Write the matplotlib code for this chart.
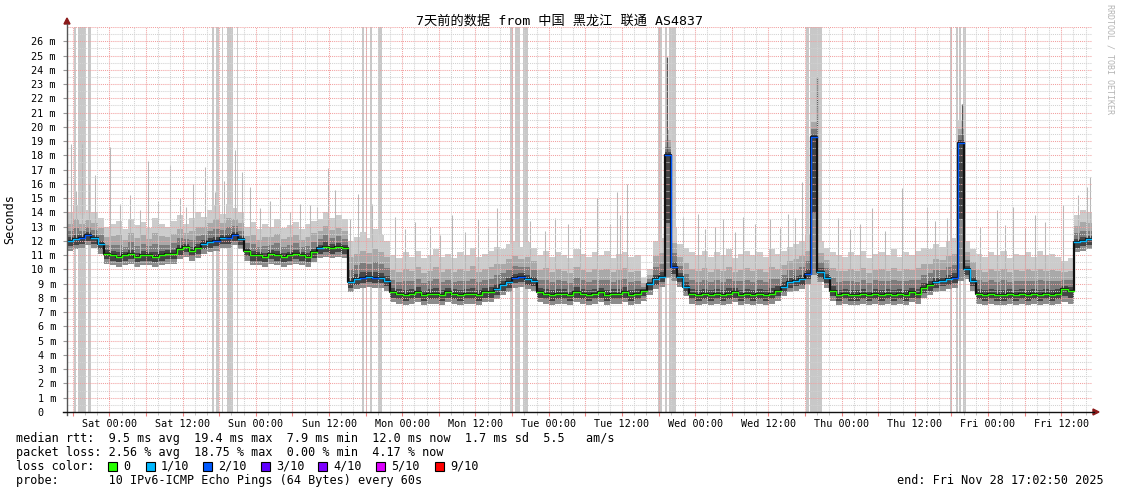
import numpy as np
import matplotlib
matplotlib.use("Agg")
import matplotlib.pyplot as plt
from matplotlib.patches import Rectangle, Polygon
from matplotlib.lines import Line2D

# ---------------- data (hourly samples, hour 0 = Fri 17:02:50) ----------------
median_ms = [
    12.0, 12.1, 12.2, 12.4, 12.2, 11.8, 11.1, 11.0, 10.9, 11.0, 11.1, 10.9, 11.0, 11.0, 10.9, 11.0, 11.1, 11.1, 11.4, 11.6, 11.3, 11.5, 11.8, 11.9,
    12.0, 12.2, 12.2, 12.4, 12.1, 11.3, 11.0, 11.0, 10.9, 11.1, 11.0, 10.9, 11.0, 11.1, 11.0, 10.9, 11.2, 11.5, 11.6, 11.5, 11.6, 11.5, 9.1, 9.3,
    9.4, 9.5, 9.4, 9.4, 9.2, 8.4, 8.3, 8.2, 8.3, 8.4, 8.2, 8.3, 8.3, 8.2, 8.4, 8.3, 8.2, 8.3, 8.3, 8.2, 8.4, 8.4, 8.6, 8.9,
    9.1, 9.4, 9.5, 9.3, 9.2, 8.4, 8.3, 8.2, 8.3, 8.3, 8.2, 8.4, 8.3, 8.2, 8.3, 8.4, 8.2, 8.3, 8.3, 8.4, 8.2, 8.3, 8.5, 9.0,
    9.3, 9.5, 18.0, 10.2, 9.5, 8.8, 8.3, 8.2, 8.3, 8.2, 8.3, 8.2, 8.3, 8.4, 8.2, 8.3, 8.2, 8.3, 8.2, 8.3, 8.5, 8.8, 9.1, 9.2,
    9.3, 9.7, 19.3, 9.8, 9.4, 8.5, 8.2, 8.3, 8.2, 8.2, 8.3, 8.2, 8.3, 8.2, 8.3, 8.2, 8.3, 8.2, 8.4, 8.3, 8.7, 8.9, 9.1, 9.2,
    9.3, 9.4, 18.9, 10.0, 9.2, 8.3, 8.2, 8.3, 8.2, 8.2, 8.3, 8.2, 8.3, 8.2, 8.3, 8.2, 8.3, 8.2, 8.3, 8.6, 8.5, 11.9, 12.0, 12.1,
]
low_ms = [
    11.3, 11.4, 11.5, 11.7, 11.5, 11.1, 10.4, 10.3, 10.2, 10.3, 10.4, 10.2, 10.3, 10.3, 10.2, 10.3, 10.4, 10.4, 10.7, 10.9, 10.6, 10.8, 11.1, 11.2,
    11.3, 11.5, 11.5, 11.7, 11.4, 10.6, 10.3, 10.3, 10.2, 10.4, 10.3, 10.2, 10.3, 10.4, 10.3, 10.2, 10.5, 10.8, 10.9, 10.8, 10.9, 10.8, 8.4, 8.6,
    8.7, 8.8, 8.7, 8.7, 8.5, 7.7, 7.6, 7.5, 7.6, 7.7, 7.5, 7.6, 7.6, 7.5, 7.7, 7.6, 7.5, 7.6, 7.6, 7.5, 7.7, 7.7, 7.9, 8.2,
    8.4, 8.7, 8.8, 8.6, 8.5, 7.7, 7.6, 7.5, 7.6, 7.6, 7.5, 7.7, 7.6, 7.5, 7.6, 7.7, 7.5, 7.6, 7.6, 7.7, 7.5, 7.6, 7.8, 8.2,
    8.6, 8.8, 9.4, 9.2, 8.8, 8.1, 7.6, 7.5, 7.6, 7.5, 7.6, 7.5, 7.6, 7.7, 7.5, 7.6, 7.5, 7.6, 7.5, 7.6, 7.8, 8.1, 8.4, 8.5,
    8.6, 9.0, 9.6, 9.1, 8.7, 7.8, 7.5, 7.6, 7.5, 7.5, 7.6, 7.5, 7.6, 7.5, 7.6, 7.5, 7.6, 7.5, 7.7, 7.6, 8.0, 8.2, 8.4, 8.5,
    8.6, 8.7, 9.2, 9.3, 8.5, 7.6, 7.5, 7.6, 7.5, 7.5, 7.6, 7.5, 7.6, 7.5, 7.6, 7.5, 7.6, 7.5, 7.6, 7.7, 7.6, 11.2, 11.3, 11.4,
]
top_ms = [
    14.0, 14.5, 13.8, 14.2, 14.0, 13.6, 13.0, 13.2, 13.4, 12.8, 13.5, 13.1, 13.3, 12.9, 13.6, 13.2, 13.0, 13.4, 13.8, 13.2, 13.6, 14.0, 13.7, 14.2,
    14.5, 13.9, 14.6, 14.3, 14.0, 13.0, 13.3, 12.8, 13.2, 13.0, 13.5, 12.9, 13.1, 13.3, 12.8, 13.2, 13.4, 13.5, 14.0, 13.6, 13.8, 13.5, 12.0, 12.3,
    12.6, 12.2, 12.8, 12.4, 12.0, 11.0, 10.8, 11.2, 10.9, 11.3, 10.8, 11.0, 11.4, 10.9, 11.1, 10.8, 11.2, 11.0, 11.5, 10.9, 11.1, 11.3, 11.6, 11.4,
    11.8, 12.0, 11.6, 11.9, 11.5, 11.0, 11.3, 10.9, 11.2, 11.0, 10.8, 11.4, 11.1, 10.9, 11.2, 11.0, 11.3, 10.8, 11.1, 11.2, 10.9, 11.0, 9.4, 10.0,
    12.0, 12.2, 19.8, 13.0, 11.8, 11.5, 11.2, 11.0, 11.3, 10.9, 11.2, 11.0, 11.4, 10.8, 11.1, 11.3, 11.0, 11.2, 10.9, 11.4, 11.1, 11.3, 11.6, 11.8,
    12.0, 12.4, 21.0, 12.0, 11.5, 11.2, 11.0, 10.9, 11.2, 11.0, 11.3, 10.8, 11.1, 11.2, 11.0, 11.4, 10.9, 11.2, 11.0, 11.3, 11.5, 11.4, 11.8, 11.6,
    12.0, 12.2, 20.5, 12.0, 11.4, 11.1, 10.9, 11.2, 11.0, 11.3, 10.8, 11.1, 11.0, 11.2, 10.9, 11.3, 11.0, 11.1, 10.9, 10.6, 10.8, 13.8, 14.2, 14.0,
]
loss_level = [
    1, 1, 2, 2, 1, 1, 0, 0, 0, 0, 0, 0, 0, 0, 0, 0, 0, 0, 0, 0, 0, 0, 1, 1,
    2, 1, 2, 2, 1, 0, 0, 0, 0, 0, 0, 0, 0, 0, 0, 0, 0, 1, 0, 0, 0, 0, 1, 1,
    2, 1, 2, 1, 1, 0, 0, 0, 0, 0, 0, 0, 0, 0, 0, 0, 0, 0, 0, 0, 0, 0, 1, 1,
    1, 2, 2, 1, 1, 0, 0, 0, 0, 0, 0, 0, 0, 0, 0, 0, 0, 0, 0, 0, 0, 0, 0, 1,
    1, 1, 2, 2, 1, 1, 0, 0, 0, 0, 0, 0, 0, 0, 0, 0, 0, 0, 0, 0, 0, 1, 1, 1,
    1, 2, 2, 1, 1, 0, 0, 0, 0, 0, 0, 0, 0, 0, 0, 0, 0, 0, 0, 0, 0, 0, 1, 1,
    1, 2, 2, 1, 1, 0, 0, 0, 0, 0, 0, 0, 0, 0, 0, 0, 0, 0, 0, 0, 0, 1, 1, 1,
]
# single high pings (hour, ms)
spike_h = [0.7, 1.5, 2.5, 3.6, 4.6, 7.0, 8.7, 10.3, 12.0, 13.3, 14.9, 16.9, 18.5, 19.5, 20.7,
           22.6, 24.3, 25.7, 27.5, 28.7, 30.0, 31.6, 33.3, 34.9, 36.6, 38.2, 39.8, 41.0, 42.8,
           43.9, 46.4, 47.7, 50.0, 53.8, 55.4, 57.0, 59.5, 61.1, 63.1, 65.2, 67.4, 69.0, 70.5,
           75.9, 78.4, 80.0, 82.1, 84.1, 86.9, 89.0, 90.2, 90.7, 91.8, 101.0, 103.4, 104.6,
           106.2, 107.5, 109.5, 110.8, 112.8, 115.2, 116.9, 118.2, 119.3, 120.5, 126.4, 128.4,
           130.0, 132.0, 134.1, 136.9, 139.0, 141.0, 142.3, 144.3, 149.7, 152.5, 153.8, 155.1,
           157.0, 158.7, 160.3, 163.3, 165.7, 167.2, 167.7]
spike_ms = [18.8, 15.5, 18.8, 16.0, 16.6, 18.6, 14.6, 15.2, 14.2, 17.6, 14.8, 17.3, 15.0, 14.4, 16.0,
            17.2, 15.4, 16.2, 18.4, 16.8, 15.8, 14.3, 14.8, 15.9, 14.0, 14.6, 14.5, 14.4, 17.1,
            15.6, 13.5, 15.3, 14.6, 13.7, 12.8, 13.3, 13.0, 12.4, 13.8, 12.6, 13.5, 13.0, 14.3,
            13.4, 12.7, 13.6, 13.2, 12.9, 15.0, 13.2, 15.4, 13.8, 16.0, 13.7, 13.9, 12.8,
            13.0, 13.5, 12.6, 13.7, 13.2, 13.5, 12.9, 13.9, 13.6, 16.1, 13.6, 12.8,
            13.2, 14.3, 12.7, 15.7, 13.0, 14.4, 13.4, 13.6, 13.0, 14.2, 13.1, 14.4,
            12.9, 13.8, 13.3, 14.5, 15.2, 15.8, 16.5]
dark_spike_h = [98.4, 123.0, 146.7]
dark_spike_ms = [24.9, 23.5, 21.6]
# periods with lost pings (smoke reaches the top)
lost_start_h = [1.15, 1.8, 3.4, 23.8, 24.4, 25.4, 26.2, 27.9, 48.4, 49.0, 49.7, 51.0,
                72.6, 73.4, 74.8, 96.9, 98.0, 98.7, 121.1, 121.8, 144.8, 145.7, 146.2, 146.9]
lost_end_h = [1.5, 3.1, 3.9, 24.1, 24.9, 25.6, 27.2, 28.1, 48.7, 49.2, 50.0, 51.6,
              73.1, 74.3, 75.6, 97.5, 98.4, 99.8, 121.6, 123.8, 145.0, 146.1, 146.6, 147.4]

first_grid_h = 0.9528          # Fri 18:00
x_tick_labels = ["Sat 00:00", "Sat 12:00", "Sun 00:00", "Sun 12:00", "Mon 00:00", "Mon 12:00",
                 "Tue 00:00", "Tue 12:00", "Wed 00:00", "Wed 12:00", "Thu 00:00", "Thu 12:00",
                 "Fri 00:00", "Fri 12:00"]
y_ticks = list(range(0, 27))
y_tick_labels = ["0  "] + [f"{v} m" for v in range(1, 27)]

loss_names = ["0", "1/10", "2/10", "3/10", "4/10", "5/10", "9/10"]
loss_colors = ["#26ff00", "#00b8ff", "#0059ff", "#5e00ff", "#7e00ff", "#dd00ff", "#ff0000"]

title = "7天前的数据 from 中国 黑龙江 联通 AS4837"
line_median = "median rtt:  9.5 ms avg  19.4 ms max  7.9 ms min  12.0 ms now  1.7 ms sd  5.5   am/s"
line_loss = "packet loss: 2.56 % avg  18.75 % max  0.00 % min  4.17 % now"
line_probe = "probe:       10 IPv6-ICMP Echo Pings (64 Bytes) every 60s"
line_end = "end: Fri Nov 28 17:02:50 2025"

# ---------------- drawing ----------------
W, H = 1121, 494
MONO = ["DejaVu Sans Mono", "Noto Sans CJK SC"]
plt.rcParams["font.family"] = MONO

def fx(px):
    return px / W

def fy(py):
    return 1 - py / H

fig = plt.figure(figsize=(W / 100, H / 100), dpi=100)
fig.patch.set_facecolor("white")
ax = fig.add_axes([fx(67), fy(412), (1092 - 67) / W, (412 - 27) / H])
ax.set_xlim(0, 168)
ax.set_ylim(0, 27)
for s in ax.spines.values():
    s.set_visible(False)

med = np.array(median_ms)
low = np.array(low_ms)
top = np.array(top_ms)
n = len(med)
edges = np.arange(n + 1)

def ext(a):
    return np.append(a, a[-1])

# lost-ping columns
for s, e in zip(lost_start_h, lost_end_h):
    ax.axvspan(s, e, color="#c8c8c8", lw=0, zorder=1)

# smoke above median
up_fracs = [1.0, 0.6, 0.33, 0.12]
up_cols = ["#cccccc", "#a9a9a9", "#7c7c7c", "#464646"]
for f, c in zip(up_fracs, up_cols):
    ax.fill_between(edges, ext(med), ext(med + f * (top - med)), step="post",
                    color=c, lw=0, zorder=2)
# single spikes
ax.vlines(spike_h, [med[int(h)] for h in spike_h], spike_ms, color="#b8b8b8",
          lw=0.75, zorder=2.1)
ax.vlines(dark_spike_h, [med[int(h)] for h in dark_spike_h], dark_spike_ms,
          color="#555555", lw=0.9, zorder=2.2)
# smoke below median
dn_fracs = [1.0, 0.55]
dn_cols = ["#8c8c8c", "#444444"]
for f, c in zip(dn_fracs, dn_cols):
    ax.fill_between(edges, ext(med - f * (med - low)), ext(med), step="post",
                    color=c, lw=0, zorder=2)

# grid (drawn over the smoke like rrdtool)
dot = (0, (1, 1))
for yv in np.arange(0.5, 27.01, 0.5):
    if abs(yv - round(yv)) < 1e-6:
        ax.axhline(yv, color="#f2a0a0", lw=0.75, ls=dot, zorder=3)
    else:
        ax.axhline(yv, color="#d2d2d2", lw=0.75, ls=dot, zorder=3)
minor_x = np.arange(first_grid_h, 168, 2.0)
major_x = np.arange(first_grid_h, 168, 6.0)
for i, xv in enumerate(minor_x):
    if i % 3 == 0:
        ax.axvline(xv, color="#f2a0a0", lw=0.75, ls=dot, zorder=3)
    else:
        ax.axvline(xv, color="#d2d2d2", lw=0.75, ls=dot, zorder=3)

# median line coloured by loss
ax.step(edges, ext(med), where="post", color="#111111", lw=1.6, zorder=4)
lv = np.array(loss_level)
for k in range(3):
    m = np.ma.masked_where(ext(lv) != k, ext(med))
    ax.step(edges, m, where="post", color=loss_colors[k], lw=1.0, zorder=5)

# ticks
ax.set_xticks(major_x)
ax.set_xticklabels(["" if i % 2 == 0 else x_tick_labels[i // 2] for i in range(len(major_x))])
ax.set_xticks(minor_x, minor=True)
ax.tick_params(axis="x", which="major", length=3, width=0.8, color="#f08080",
               pad=2, labelsize=7.3, direction="out")
ax.tick_params(axis="x", which="minor", length=2, width=0.6, color="#bbbbbb")
ax.set_yticks(y_ticks)
ax.set_yticklabels(y_tick_labels)
ax.tick_params(axis="y", which="major", length=3, width=0.8, color="#999999",
               pad=5, labelsize=7.3)

# axes lines and arrows
fig.add_artist(Line2D([fx(67), fx(67)], [fy(415), fy(24)], color="#555555", lw=1.0))
fig.add_artist(Line2D([fx(63), fx(1094)], [fy(412), fy(412)], color="#111111", lw=1.0))
fig.add_artist(Polygon([[fx(64), fy(24)], [fx(70), fy(24)], [fx(67), fy(18)]],
                       closed=True, color="#8b1a1a", transform=fig.transFigure))
fig.add_artist(Polygon([[fx(1093), fy(409)], [fx(1093), fy(415)], [fx(1099), fy(412)]],
                       closed=True, color="#8b1a1a", transform=fig.transFigure))

# texts
fig.text(fx(560), fy(21), title, ha="center", va="center", fontsize=9.5, family=MONO)
fig.text(fx(10), fy(219), "Seconds", rotation=90, ha="center", va="center", fontsize=8.5)
fig.text(fx(1110), fy(4), "RRDTOOL / TOBI OETIKER", rotation=270, ha="center", va="top",
         fontsize=6.0, color="#b4b4b4")

fs = 8.5
fig.text(fx(16), fy(438), line_median, ha="left", va="center", fontsize=fs)
fig.text(fx(16), fy(452), line_loss, ha="left", va="center", fontsize=fs)
fig.text(fx(16), fy(466), "loss color:", ha="left", va="center", fontsize=fs)
fig.text(fx(16), fy(480), line_probe, ha="left", va="center", fontsize=fs)
fig.text(fx(1104), fy(480), line_end, ha="right", va="center", fontsize=fs)

sw_x = [108, 146, 203, 261, 318, 376, 435]
for px, name, col in zip(sw_x, loss_names, loss_colors):
    fig.add_artist(Rectangle((fx(px), fy(471)), 9 / W, 9 / H, facecolor=col,
                             edgecolor="black", lw=0.8, transform=fig.transFigure))
    fig.text(fx(px + 15), fy(466), name, ha="left", va="center", fontsize=fs)

fig.savefig("out.png", dpi=100, facecolor="white")
